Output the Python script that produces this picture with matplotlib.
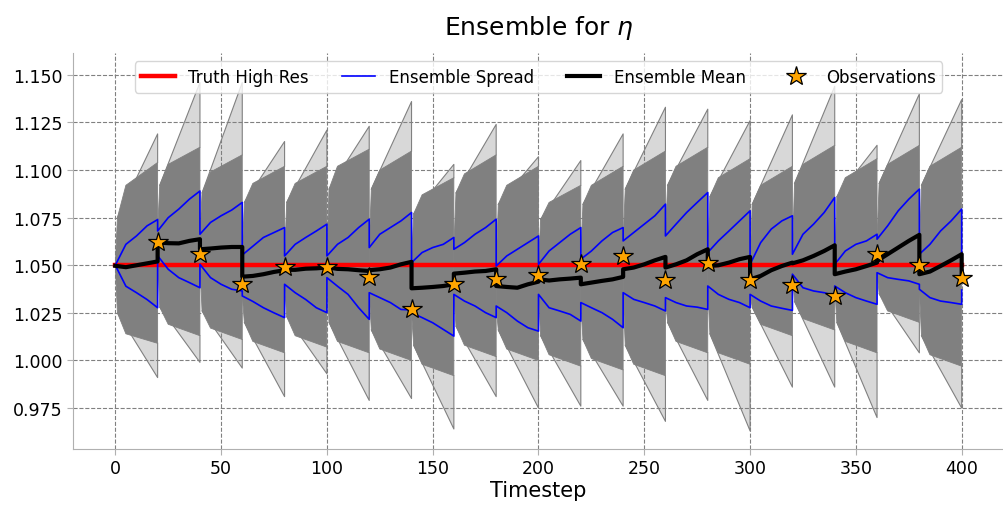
import numpy as np
import matplotlib
matplotlib.use("Agg")
import matplotlib.pyplot as plt
from matplotlib.lines import Line2D

# ---------------- data ----------------
window_len = 20
sub_offsets = [0, 5, 10, 15, 20]          # sample offsets inside each 20-step window

# ensemble mean at offsets 0(analysis),5,10,15,20(forecast) for each window
mean_win = [
    [1.0497, 1.0490, 1.0500, 1.0510, 1.0520],
    [1.0619, 1.0616, 1.0615, 1.0628, 1.0637],
    [1.0584, 1.0588, 1.0593, 1.0596, 1.0596],
    [1.0440, 1.0444, 1.0453, 1.0465, 1.0474],
    [1.0476, 1.0476, 1.0482, 1.0484, 1.0488],
    [1.0490, 1.0481, 1.0479, 1.0474, 1.0470],
    [1.0474, 1.0479, 1.0488, 1.0505, 1.0518],
    [1.0379, 1.0382, 1.0386, 1.0391, 1.0400],
    [1.0456, 1.0461, 1.0467, 1.0470, 1.0479],
    [1.0391, 1.0386, 1.0382, 1.0400, 1.0414],
    [1.0426, 1.0420, 1.0426, 1.0430, 1.0435],
    [1.0400, 1.0409, 1.0418, 1.0426, 1.0439],
    [1.0479, 1.0488, 1.0505, 1.0526, 1.0544],
    [1.0488, 1.0505, 1.0526, 1.0558, 1.0584],
    [1.0496, 1.0500, 1.0514, 1.0532, 1.0544],
    [1.0426, 1.0444, 1.0474, 1.0496, 1.0514],
    [1.0510, 1.0526, 1.0549, 1.0575, 1.0605],
    [1.0453, 1.0467, 1.0479, 1.0496, 1.0514],
    [1.0523, 1.0558, 1.0593, 1.0628, 1.0660],
    [1.0453, 1.0467, 1.0496, 1.0526, 1.0558],
]
mean_final = 1.0444

# ensemble spread (mean +/- std) upper / lower lines
upper_win = [
    [1.0500, 1.0610, 1.0654, 1.0707, 1.0740],
    [1.0680, 1.0750, 1.0795, 1.0847, 1.0890],
    [1.0663, 1.0725, 1.0760, 1.0790, 1.0830],
    [1.0554, 1.0600, 1.0646, 1.0672, 1.0698],
    [1.0549, 1.0610, 1.0646, 1.0680, 1.0716],
    [1.0549, 1.0610, 1.0646, 1.0698, 1.0742],
    [1.0593, 1.0663, 1.0698, 1.0733, 1.0777],
    [1.0514, 1.0567, 1.0593, 1.0610, 1.0646],
    [1.0584, 1.0619, 1.0663, 1.0698, 1.0742],
    [1.0496, 1.0549, 1.0584, 1.0619, 1.0654],
    [1.0505, 1.0575, 1.0619, 1.0663, 1.0698],
    [1.0532, 1.0575, 1.0628, 1.0672, 1.0698],
    [1.0628, 1.0672, 1.0716, 1.0760, 1.0821],
    [1.0654, 1.0716, 1.0777, 1.0830, 1.0882],
    [1.0567, 1.0628, 1.0680, 1.0733, 1.0786],
    [1.0505, 1.0619, 1.0690, 1.0733, 1.0760],
    [1.0558, 1.0663, 1.0716, 1.0777, 1.0856],
    [1.0505, 1.0575, 1.0610, 1.0628, 1.0663],
    [1.0637, 1.0707, 1.0786, 1.0847, 1.0900],
    [1.0558, 1.0610, 1.0680, 1.0733, 1.0795],
]
upper_final = 1.0505

lower_win = [
    [1.0500, 1.0390, 1.0356, 1.0320, 1.0277],
    [1.0550, 1.0479, 1.0435, 1.0409, 1.0382],
    [1.0505, 1.0435, 1.0400, 1.0374, 1.0365],
    [1.0339, 1.0310, 1.0277, 1.0250, 1.0225],
    [1.0400, 1.0356, 1.0320, 1.0277, 1.0251],
    [1.0435, 1.0390, 1.0347, 1.0277, 1.0216],
    [1.0356, 1.0330, 1.0304, 1.0268, 1.0265],
    [1.0251, 1.0225, 1.0198, 1.0163, 1.0128],
    [1.0347, 1.0312, 1.0286, 1.0251, 1.0225],
    [1.0286, 1.0251, 1.0207, 1.0172, 1.0154],
    [1.0347, 1.0277, 1.0260, 1.0242, 1.0207],
    [1.0304, 1.0277, 1.0251, 1.0216, 1.0172],
    [1.0356, 1.0321, 1.0304, 1.0286, 1.0260],
    [1.0330, 1.0304, 1.0286, 1.0280, 1.0268],
    [1.0391, 1.0347, 1.0321, 1.0304, 1.0277],
    [1.0347, 1.0312, 1.0286, 1.0274, 1.0263],
    [1.0453, 1.0382, 1.0365, 1.0356, 1.0340],
    [1.0391, 1.0356, 1.0330, 1.0312, 1.0295],
    [1.0461, 1.0435, 1.0426, 1.0418, 1.0400],
    [1.0374, 1.0330, 1.0312, 1.0304, 1.0295],
]
lower_final = 1.0370

# ensemble members, dense core envelope at offsets 1, 5 and end of window
dense_top_1 = [1.075, 1.092, 1.088, 1.083, 1.083, 1.090, 1.090, 1.077, 1.088, 1.082,
               1.074, 1.082, 1.090, 1.092, 1.086, 1.082, 1.093, 1.086, 1.093, 1.092]
dense_top_5 = [1.092, 1.103, 1.099, 1.093, 1.093, 1.102, 1.100, 1.087, 1.098, 1.092,
               1.083, 1.092, 1.100, 1.102, 1.096, 1.092, 1.103, 1.096, 1.103, 1.102]
dense_top_end = [1.104, 1.112, 1.108, 1.102, 1.102, 1.111, 1.110, 1.096, 1.108, 1.102,
                 1.092, 1.102, 1.110, 1.112, 1.106, 1.102, 1.113, 1.106, 1.113, 1.112]
dense_bot_1 = [1.025, 1.028, 1.026, 1.020, 1.023, 1.020, 1.016, 1.008, 1.018, 1.016,
               1.013, 1.011, 1.008, 1.020, 1.014, 1.028, 1.031, 1.020, 1.035, 1.013]
dense_bot_5 = [1.014, 1.019, 1.017, 1.010, 1.013, 1.010, 1.006, 0.998, 1.008, 1.006,
               1.003, 1.001, 0.998, 1.010, 1.004, 1.019, 1.022, 1.010, 1.026, 1.003]
dense_bot_end = [1.009, 1.013, 1.011, 1.004, 1.007, 1.004, 1.000, 0.992, 1.002, 1.000,
                 0.997, 0.995, 0.992, 1.004, 0.998, 1.013, 1.016, 1.004, 1.020, 0.997]
# ensemble members, outermost members at end of window
outer_top_end = [1.119, 1.146, 1.146, 1.115, 1.121, 1.123, 1.136, 1.103, 1.124, 1.107,
                 1.105, 1.119, 1.133, 1.132, 1.126, 1.129, 1.144, 1.113, 1.140, 1.137]
outer_bot_end = [0.991, 0.999, 0.996, 0.981, 0.993, 0.979, 0.980, 0.964, 0.981, 0.975,
                 0.976, 0.976, 0.968, 0.979, 0.963, 0.986, 0.986, 0.970, 1.004, 0.975]

truth_t = [0, 400]
truth_val = [1.05, 1.05]

obs_t = [20, 40, 60, 80, 100, 120, 140, 160, 180, 200,
         220, 240, 260, 280, 300, 320, 340, 360, 380, 400]
obs_val = [1.062, 1.056, 1.040, 1.049, 1.049, 1.044, 1.027, 1.040, 1.043, 1.045,
           1.0505, 1.055, 1.042, 1.051, 1.0425, 1.0395, 1.034, 1.0558, 1.050, 1.0435]

# ---------------- build series ----------------
n_win = len(mean_win)
t_series = []
for k in range(n_win):
    for o in sub_offsets:
        t_series.append(k * window_len + o)
t_series.append(n_win * window_len)
t_series = np.array(t_series, dtype=float)
mean_series = np.array([v for w in mean_win for v in w] + [mean_final])
upper_series = np.array([v for w in upper_win for v in w] + [upper_final])
lower_series = np.array([v for w in lower_win for v in w] + [lower_final])

# ---------------- figure ----------------
fig = plt.figure(figsize=(10.04, 5.06), dpi=100)
ax = fig.add_axes([0.0727, 0.1107, 0.9273, 0.7826])

grey = "#808080"
for k in range(n_win):
    t0 = k * window_len
    t1 = t0 + window_len
    ut, lt = upper_win[k][0], lower_win[k][0]
    # sparse outer members
    ax.fill([t0 + 1, t1, t1], [dense_top_1[k], outer_top_end[k], dense_top_end[k]],
            color=grey, alpha=0.3, lw=0, zorder=1)
    ax.fill([t0 + 1, t1, t1], [dense_bot_1[k], outer_bot_end[k], dense_bot_end[k]],
            color=grey, alpha=0.3, lw=0, zorder=1)
    ax.plot([t0 + 1, t1, t1], [dense_top_1[k], outer_top_end[k], dense_top_end[k]],
            color=grey, lw=0.8, zorder=1)
    ax.plot([t0 + 1, t1, t1], [dense_bot_1[k], outer_bot_end[k], dense_bot_end[k]],
            color=grey, lw=0.8, zorder=1)
    # dense core
    ax.fill([t0, t0 + 1, t0 + 5, t1, t1, t0 + 5, t0 + 1, t0],
            [ut, dense_top_1[k], dense_top_5[k], dense_top_end[k],
             dense_bot_end[k], dense_bot_5[k], dense_bot_1[k], lt],
            color=grey, lw=0.6, ec=grey, zorder=2)

ax.plot(truth_t, truth_val, color="red", lw=3.2, zorder=4)
ax.plot(t_series, upper_series, color="blue", lw=1.2, zorder=5)
ax.plot(t_series, lower_series, color="blue", lw=1.2, zorder=5)
ax.plot(t_series, mean_series, color="black", lw=3.0, zorder=6)
ax.plot(obs_t, obs_val, ls="none", marker="*", ms=15, mfc="orange", mec="black",
        mew=0.9, zorder=7)

ax.set_xlim(-20, 420)
ax.set_ylim(0.9535, 1.1615)
ax.set_yticks([0.975, 1.0, 1.025, 1.05, 1.075, 1.1, 1.125, 1.15])
ax.set_yticklabels(["0.975", "1.000", "1.025", "1.050", "1.075", "1.100", "1.125", "1.150"])
ax.set_xticks([0, 50, 100, 150, 200, 250, 300, 350, 400])
ax.grid(True, color="grey", ls="--", lw=0.8)
ax.set_axisbelow(True)
for s in ["top", "right"]:
    ax.spines[s].set_visible(False)
for s in ["left", "bottom"]:
    ax.spines[s].set_color("#b0b0b0")
ax.tick_params(labelsize=12.5, colors="black", length=4)
ax.tick_params(axis="both", color="#b0b0b0")
ax.set_xlabel("Timestep", fontsize=15, labelpad=2)
ax.set_title(r"Ensemble for $\eta$", fontsize=18, pad=14)

handles = [
    Line2D([], [], color="red", lw=3.2, label="Truth High Res"),
    Line2D([], [], color="blue", lw=1.2, label="Ensemble Spread"),
    Line2D([], [], color="black", lw=3.0, label="Ensemble Mean"),
    Line2D([], [], ls="none", marker="*", ms=15, mfc="orange", mec="black", mew=0.9,
           label="Observations"),
]
leg = ax.legend(handles=handles, loc="upper center", ncol=4, fontsize=12, framealpha=0.8,
                columnspacing=2.0, bbox_to_anchor=(0.5, 1.0))
leg.set_zorder(10)

fig.savefig("out.png", dpi=100)
